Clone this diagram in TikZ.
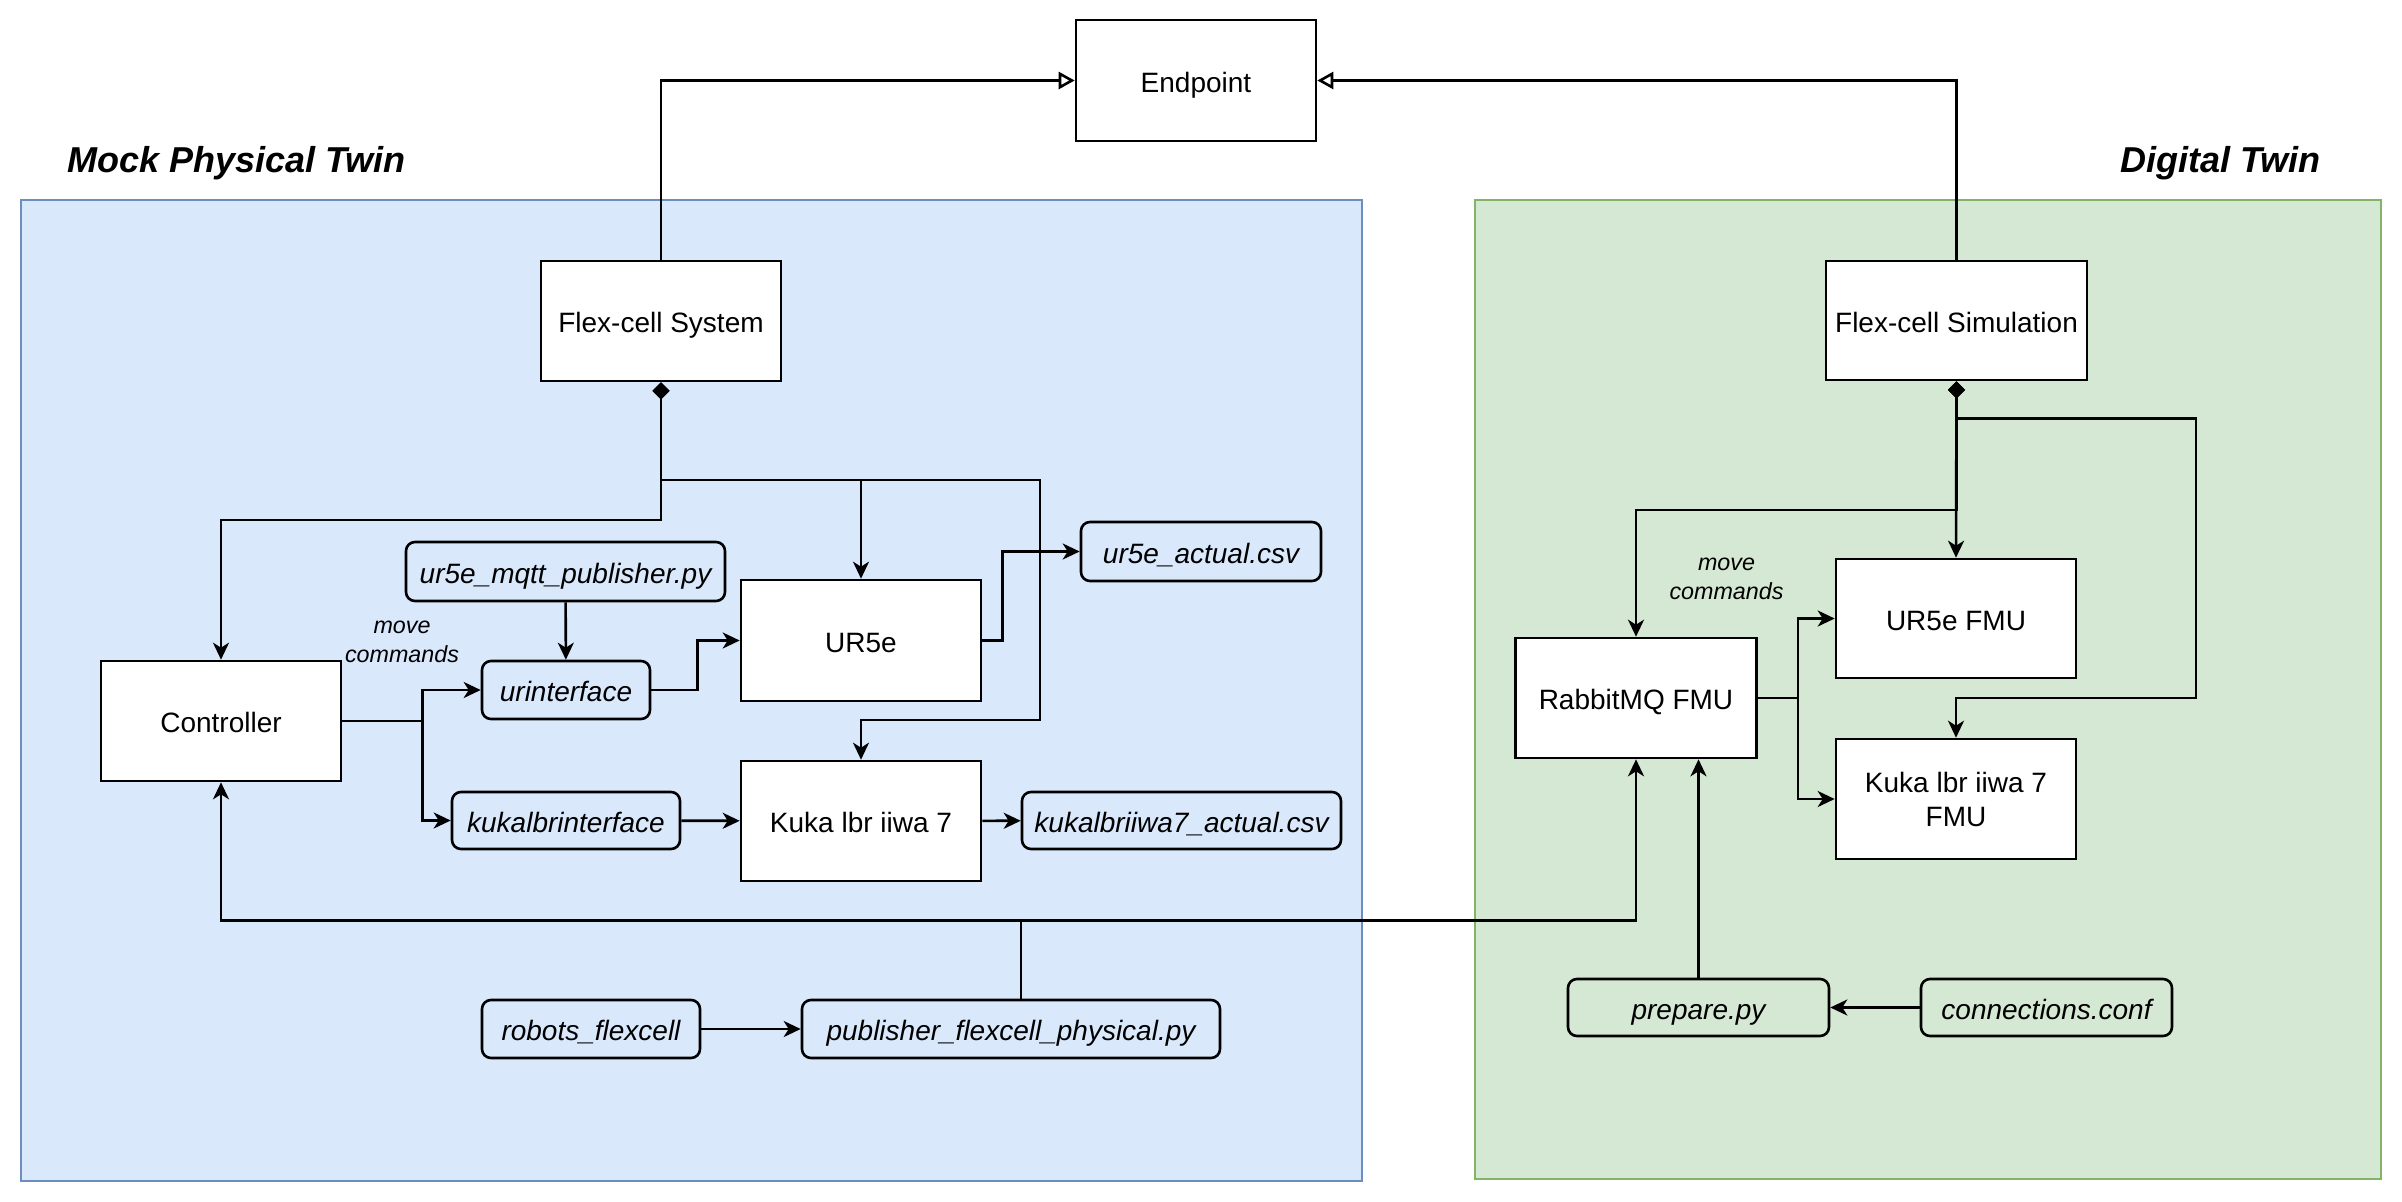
\documentclass[tikz,border=0pt]{standalone}
\usepackage{fontspec}
\setmainfont{Liberation Sans}
\usetikzlibrary{arrows.meta}

\tikzset{
    block/.style={draw, fill=white, line width=2.6pt, minimum width=240pt, minimum height=120pt,
                  inner sep=2pt, align=center, text height=29pt, text depth=6pt,
                  font=\fontsize{28}{34}\selectfont},
    script/.style={draw, fill=none, line width=2.6pt, rounded corners=9pt, minimum height=58pt,
                   inner sep=2pt, text height=29pt, text depth=6pt,
                   font=\fontsize{28}{34}\selectfont\itshape},
    wire/.style={line width=2.6pt, -{Stealth[length=17pt, width=16pt, inset=5pt]}},
    owns/.style={line width=2.6pt, {Diamond[length=17pt, width=17pt]}-{Stealth[length=17pt, width=16pt, inset=5pt]}},
    isa/.style={line width=2.6pt, -{Triangle[open, length=16pt, width=17pt]}},
    twin/.style={font=\fontsize{36}{40}\selectfont\bfseries\itshape},
    note/.style={align=center, font=\fontsize{23.3}{29}\selectfont\itshape}
}

\begin{document}
\begin{tikzpicture}[x=1pt, y=-1pt]

            \useasboundingbox (0,0) rectangle (2402,1202);
            %\draw [help lines] (0,0) grid[step=100] (2402,1202);

            \fill[fill={rgb,255:red,218;green,232;blue,252}, draw={rgb,255:red,108;green,142;blue,191}, line width=2pt]
                (20.5,200) rectangle (1362,1181);
            \fill[fill={rgb,255:red,213;green,232;blue,212}, draw={rgb,255:red,130;green,179;blue,102}, line width=2pt]
                (1475,200) rectangle (2381,1179);

            \path   (236.5,163) node (mpt) [twin] {Mock Physical Twin}
                    (2220.5,163) node (dt) [twin] {Digital Twin}
                    (1196,80.5) node (ep) [block, minimum height=121pt] {Endpoint}
                    (661,321) node (fs) [block] {Flex-cell System}
                    (221,721) node (ctrl) [block] {Controller}
                    (861,640.5) node (ur) [block, minimum height=121pt] {UR5e}
                    (861,821) node (kuka) [block] {Kuka lbr iiwa 7}
                    (565.5,571.5) node (mqtt) [script, minimum width=319pt, minimum height=59pt] {ur5e\_mqtt\_publisher.py}
                    (566,690) node (urif) [script, minimum width=168pt] {urinterface}
                    (566,820.5) node (kif) [script, minimum width=228pt, minimum height=57pt] {kukalbrinterface}
                    (1201,551.5) node (uract) [script, minimum width=240pt, minimum height=59pt] {ur5e\_actual.csv}
                    (1181.5,820.5) node (kact) [script, minimum width=319pt, minimum height=57pt] {kukalbriiwa7\_actual.csv}
                    (591,1029) node (robots) [script, minimum width=218pt] {robots\_flexcell}
                    (1011,1029) node (pub) [script, minimum width=418pt] {publisher\_flexcell\_physical.py}
                    (402,642) node (mvl) [note] {move\\commands}
                    (1956.5,320.5) node (fsim) [block, minimum width=261pt, minimum height=119pt] {Flex-cell Simulation}
                    (1636,698) node (rmq) [block, minimum width=240.5pt] {RabbitMQ FMU}
                    (1956,618.5) node (urfmu) [block, minimum height=119pt] {UR5e FMU}
                    (1956,799) node (kfmu) [block, text height=54.4pt, text depth=0pt] {Kuka lbr iiwa 7\\FMU}
                    (1698.5,1007.5) node (prep) [script, minimum width=261pt, minimum height=57pt] {prepare.py}
                    (2046.5,1007.5) node (conf) [script, minimum width=251pt, minimum height=57pt] {connections.conf}
                    (1726.5,579) node (mvr) [note] {move\\commands};

            \draw[isa] (fs.north) |- (ep.west);
            \draw[isa] (fsim.north) |- (ep.east);

            \draw[owns] (fs.south) -- (fs.south |- 0,520) -| (ctrl.north);
            \draw[owns] (fs.south) -- (fs.south |- 0,480) -| (ur.north);
            \draw[owns] (fs.south) |- (1040,480) -- (1040,720) -| (kuka.north);

            \draw[wire] (mqtt) -- (urif);
            \draw[wire] (ctrl.east) -- ++(80,0) |- (urif.west);
            \draw[wire] (ctrl.east) -- ++(80,0) |- (kif.west);
            \draw[wire] (urif.east) -- ++(46,0) |- (ur.west);
            \draw[wire] (ur.east) -- ++(20,0) |- (uract.west);
            \draw[wire] (kif) -- (kuka);
            \draw[wire] (kuka) -- (kact);
            \draw[wire] (robots) -- (pub);
            \draw[wire] ([xshift=10pt]pub.north) -- ([xshift=10pt]pub.north |- 0,920.5) -| (ctrl.south);
            \draw[wire] ([xshift=10pt]pub.north) -- ([xshift=10pt]pub.north |- 0,920.5) -| (rmq.south);

            \draw[owns] (fsim.south) -- (fsim.south |- 0,510) -| (rmq.north);
            \draw[owns] (fsim.south) -- (urfmu.north);
            \draw[owns] (fsim.south) |- (2196,418.5) -- (2196,698) -| (kfmu.north);

            \draw[wire] (rmq.east) -- ++(40.5,0) |- (urfmu.west);
            \draw[wire] (rmq.east) -- ++(40.5,0) |- (kfmu.west);
            \draw[wire] (prep.north) -- (prep.north |- rmq.south);
            \draw[wire] (conf) -- (prep);
        \end{tikzpicture}
\end{document}
